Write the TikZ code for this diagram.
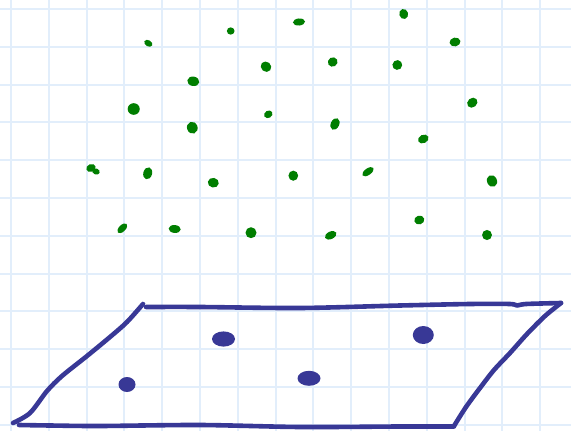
\documentclass[tikz,border=0pt]{standalone}
\definecolor{gridblue}{RGB}{226,238,251}
\definecolor{penblue}{RGB}{56,56,150}
\definecolor{dotgreen}{RGB}{0,126,0}
\tikzset{
  gridline/.style={draw=gridblue, line width=2pt},
  pen/.style={draw=penblue, line width=4.6pt, line cap=round, line join=round},
  gdot/.style={fill=dotgreen},
  bdot/.style={fill=penblue}
}
\begin{document}
\begin{tikzpicture}[x=1pt,y=-1pt]
\useasboundingbox (0,0) rectangle (571,431);
\fill[white] (0,0) rectangle (571,431);
% grid
\foreach \k in {0,...,15} {
  \draw[gridline] ({11+37.8*\k},0) -- ({11+37.8*\k},431);
}
\foreach \k in {0,...,11} {
  \draw[gridline] (0,{9+37.8*\k}) -- (571,{9+37.8*\k});
}
% green dots
\foreach \x/\y/\a/\b/\r in {
  148.3/43.3/4/2.8/30, 230.7/31/3.5/3.3/0, 266/66.7/5/4.5/40, 193.3/81.3/5.5/4.3/10,
  133.7/109/5.5/5.3/0, 268.3/114.3/4/3.3/-30, 192.3/127.7/4.8/5.5/-20,
  299/22/5.5/3.2/-5, 403.7/14/4/4.6/-15, 455/42/5/4/-10, 332.7/62/4.5/4.2/-30,
  397.3/65/4.5/4.4/-40, 472.3/102.7/5/4.2/-40, 335/124/3.8/5.6/25, 423.3/139/5/3.8/-25,
  147.7/173.3/4/5.5/15, 213.3/182.7/5/4.4/10, 122.3/228.3/5.6/3/-45,
  174.7/229/5.5/3.6/5, 251/232.7/5/5/0,
  293.3/175.7/4.4/4.6/0, 368/171.7/6/3/-35, 492/181/4.5/5.5/-25,
  419.3/220/4.6/4/-15, 330.7/235.3/5.6/3.4/-25, 487/235/4.5/4.6/0}
{
  \fill[gdot] (\x,\y) ellipse[x radius=1.1*\a, y radius=1.1*\b, rotate=-\r];
}
% irregular dot
\fill[gdot] (91,168) ellipse[x radius=4.8, y radius=3.9, rotate=20];
\fill[gdot] (96,171.5) ellipse[x radius=3.8, y radius=3, rotate=-20];
% blue shape
\draw[pen] plot[smooth, tension=0.5] coordinates {(13,423) (30,413) (47,391) (62,376) (87,356) (110,337) (127,322) (143,304)};
\draw[pen] plot[smooth, tension=0.5] coordinates {(146,307) (200,307) (300,308) (400,305.5) (470,304) (510,304) (517,305.5) (526,304) (561,303)};
\draw[pen] plot[smooth, tension=0.5] coordinates {(561,303) (545,316) (527,334) (510,353) (494,370) (480,388) (466,407) (454,426)};
\draw[pen] plot[smooth, tension=0.5] coordinates {(454,426.5) (400,426.5) (300,427) (200,425) (100,426) (50,425.5) (19,425)};
% blue dots
\fill[bdot] (127,384.5) ellipse[x radius=8.5, y radius=7.5];
\fill[bdot] (223.5,339) ellipse[x radius=11.5, y radius=7.6];
\fill[bdot] (423.3,335) ellipse[x radius=10.5, y radius=9];
\fill[bdot] (309,378.3) ellipse[x radius=11.5, y radius=7.5];
\end{tikzpicture}
\end{document}
